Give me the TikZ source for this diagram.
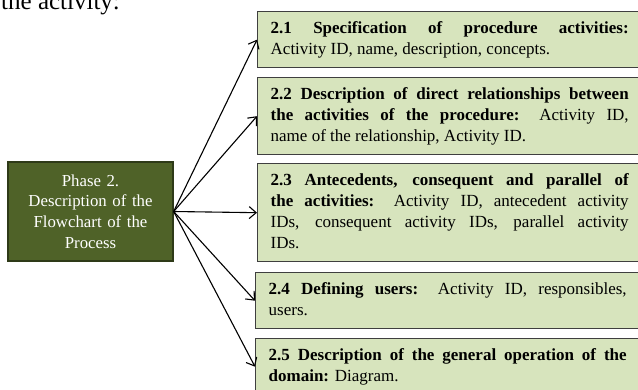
\documentclass[tikz,border=0pt]{standalone}
\usepackage{fontspec}
\setmainfont{Liberation Serif}
\usetikzlibrary{arrows.meta}
\definecolor{phasefill}{HTML}{4F6228}
\definecolor{phaseline}{HTML}{2E3A18}
\definecolor{stepfill}{HTML}{D7E4BD}
\definecolor{stepline}{HTML}{3F3F3F}

\begin{document}
\begin{tikzpicture}[x=1pt,y=1pt,
  substep/.style={draw=stepline, line width=1.4pt, fill=stepfill,
    anchor=north west, text width=358pt, inner xsep=13pt, inner ysep=7pt,
    align=justify, font=\fontsize{17}{21}\selectfont},
  phasebox/.style={draw=phaseline, line width=1.3pt, fill=phasefill,
    minimum width=165pt, minimum height=99pt, text width=152pt,
    align=center, text=white, font=\fontsize{16.8}{20.7}\selectfont},
  link/.style={-{Straight Barb[length=7pt,width=12pt,line width=1.1pt]},
    line width=1.1pt}]
\useasboundingbox (0,0) rectangle (638,-390);
\clip (0,0) rectangle (638,-390);

% running text above the figure
\node[anchor=base west, inner sep=0pt, font=\fontsize{25}{30}\selectfont]
  (lead) at (1,-9.5) {the activity:};

% phase box
\node[phasebox] (phase) at (90.5,-211.5)
  {Phase 2.\\Description of the\\Flowchart of the\\Process};

% sub-steps
\node[substep] (s1) at (257,-11)
  {\strut\textbf{2.1 Specification of procedure activities:}\linebreak
   Activity ID, name, description, concepts.\strut};
\node[substep] (s2) at (257,-77)
  {\strut\textbf{2.2 Description of direct relationships between\linebreak
   the activities of the procedure:} Activity ID,\linebreak
   name of the relationship, Activity ID.\strut};
\node[substep] (s3) at (257,-163)
  {\strut\textbf{2.3 Antecedents, consequent and parallel of\linebreak
   the activities:} Activity ID, antecedent activity\linebreak
   IDs, consequent activity IDs, parallel activity\linebreak
   IDs.\strut};
\node[substep] (s4) at (255,-272)
  {\strut\textbf{2.4 Defining users:} Activity ID, responsibles,\linebreak
   users.\strut};
\node[substep] (s5) at (255,-338)
  {\strut\textbf{2.5 Description of the general operation of the\linebreak
   domain:} Diagram.\strut};

% connectors
\foreach \s in {s1,s2,s3,s4,s5}
  \draw[link] (phase.east) -- (\s.west);
\end{tikzpicture}
\end{document}
